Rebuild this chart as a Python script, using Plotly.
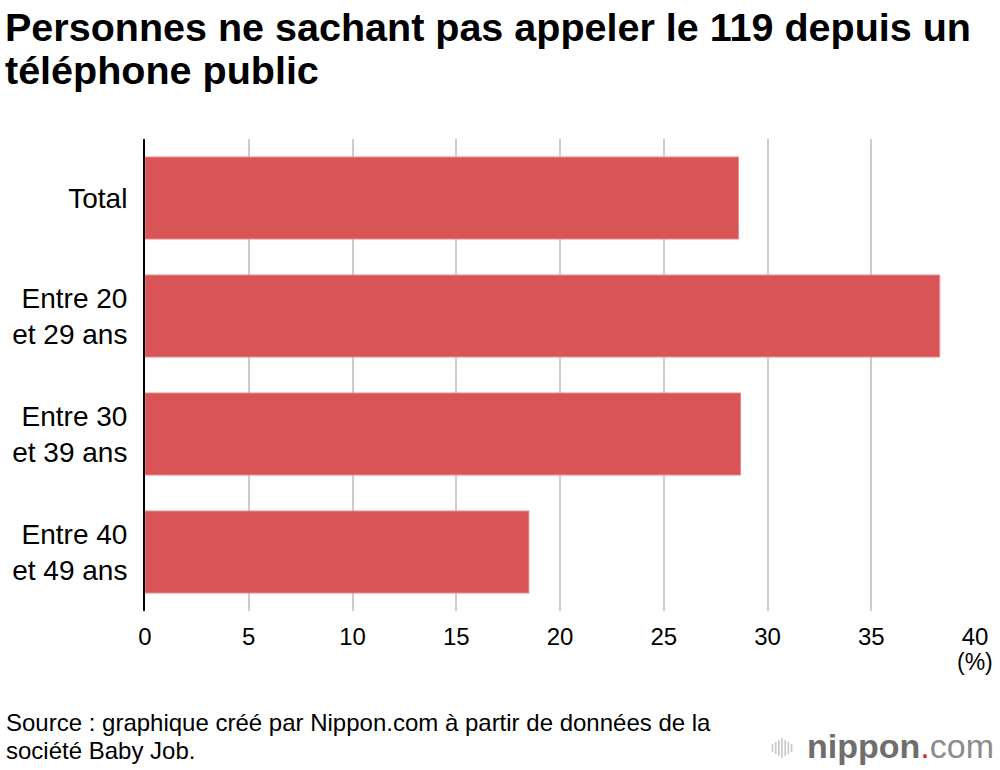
import plotly.graph_objects as go

categories = ["Total", "Entre 20<br>et 29 ans", "Entre 30<br>et 39 ans", "Entre 40<br>et 49 ans"]
values = [28.6, 38.3, 28.7, 18.5]
tick_vals = [0, 5, 10, 15, 20, 25, 30, 35, 40]

title_lines = ["Personnes ne sachant pas appeler le 119 depuis un", "téléphone public"]
source_lines = ["Source : graphique créé par Nippon.com à partir de données de la", "société Baby Job."]

BAR = "#d95456"
FONT = "Liberation Sans, Arial, sans-serif"

# plot area in pixels
L, R, T, B = 142, 22, 139, 159
W, H = 1000, 770
PW, PH = W - L - R, H - T - B


def px_x(px):
    return (px - L) / PW


fig = go.Figure(go.Bar(
    x=values, y=categories, orientation="h",
    marker=dict(color=BAR, line=dict(color="#e88a8b", width=1)),
    width=0.695, hoverinfo="x+y",
))

fig.update_layout(
    width=W, height=H,
    paper_bgcolor="white", plot_bgcolor="white",
    margin=dict(l=L, r=R, t=T, b=B),
    font=dict(family=FONT, color="black"),
    showlegend=False,
)

fig.update_xaxes(
    range=[0, 40], tickvals=tick_vals, ticktext=[str(v) for v in tick_vals],
    showgrid=True, gridcolor="#cccccc", gridwidth=2,
    zeroline=False, showline=False,
    tickfont=dict(size=24, family=FONT, color="black"),
    ticks="outside", ticklen=4, tickcolor="white",
    fixedrange=True,
)
fig.update_yaxes(
    autorange="reversed",
    showgrid=False, zeroline=False,
    showline=True, linecolor="black", linewidth=2,
    tickfont=dict(size=28, family=FONT, color="black"),
    ticks="outside", ticklen=10, tickcolor="white",
    fixedrange=True,
)

# title (two lines)
for txt, cy in zip(title_lines, [27, 70]):
    fig.add_annotation(
        text="<b>" + txt + "</b>", xref="paper", yref="paper",
        x=px_x(-1), y=1, yshift=T - cy,
        showarrow=False, xanchor="left", yanchor="middle",
        font=dict(size=39.5, family=FONT, color="black"),
    )

fig.add_annotation(
    text="(%)", xref="x", yref="paper", x=40, y=0, yshift=(H - B) - 662,
    showarrow=False, xanchor="center", yanchor="middle",
    font=dict(size=23, family=FONT, color="black"),
)

for txt, cy in zip(source_lines, [722, 750]):
    fig.add_annotation(
        text=txt, xref="paper", yref="paper",
        x=px_x(0), y=0, yshift=(H - B) - cy,
        showarrow=False, xanchor="left", yanchor="middle", align="left",
        font=dict(size=24, family=FONT, color="black"),
    )

# logo
fig.add_annotation(
    text="<b>nippon</b><span style='color:#e8202a'>.</span><span style='color:#8c8c8c'>com</span>",
    xref="paper", yref="paper", x=px_x(999), y=0, yshift=(H - B) - 746,
    showarrow=False, xanchor="right", yanchor="middle",
    font=dict(size=34, family=FONT, color="#6e6e6e"),
)
icon_h = [8, 12, 16, 20, 16, 12, 8]
for i, h in enumerate(icon_h):
    xp = 774 + i * 3.2
    fig.add_shape(
        type="line", xref="paper", yref="paper",
        x0=px_x(xp), x1=px_x(xp),
        y0=((H - B) - (748 - h / 2)) / PH, y1=((H - B) - (748 + h / 2)) / PH,
        line=dict(color="#c8c8c8", width=1.6),
    )

fig.write_html(
    "out.html",
    config={"displayModeBar": False},
    post_script="document.body.style.margin='0';",
)
